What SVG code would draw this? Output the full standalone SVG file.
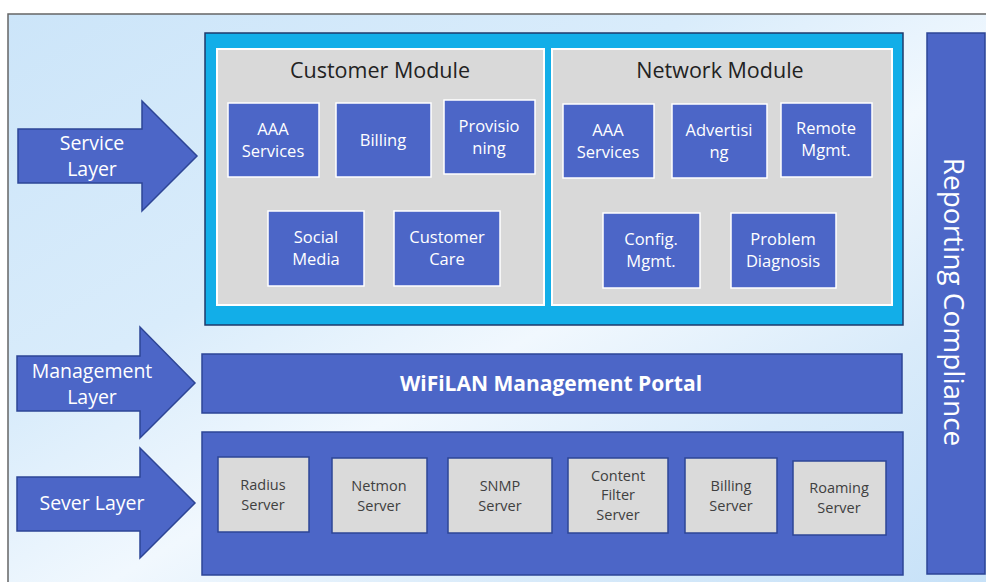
<svg xmlns="http://www.w3.org/2000/svg" width="986" height="582" viewBox="0 0 986 582">
<defs>
<linearGradient id="bg" x1="0" y1="0" x2="1" y2="1">
<stop offset="0" stop-color="#cce5f9"/>
<stop offset="0.35" stop-color="#d9ecfb"/>
<stop offset="0.55" stop-color="#f1f8fe"/>
<stop offset="0.75" stop-color="#d9ebfa"/>
<stop offset="1" stop-color="#c6e1f8"/>
</linearGradient>
<style>
.blue{fill:#4c66c7;stroke:#2d4596;stroke-width:1.5}
.sub{fill:#4c66c7;stroke:#ffffff;stroke-width:1.5}
.gray{fill:#d9d9d9;stroke:#ffffff;stroke-width:2}
.srv{fill:#dadada;stroke:#2d4596;stroke-width:1.5}
.arrow{fill:#4c66c7;stroke:#2d4596;stroke-width:1.5}
text{font-family:"Open Sans","Noto Sans","DejaVu Sans",sans-serif}
.wt{fill:#ffffff;font-size:16.5px;text-anchor:middle}
.at{fill:#ffffff;font-size:19.5px;text-anchor:middle}
.tt{fill:#222222;font-size:21.5px;text-anchor:middle}
.st{fill:#404040;font-size:14.5px;text-anchor:middle}
</style>
</defs>
<rect x="0" y="0" width="986" height="582" fill="#ffffff"/>
<rect x="8" y="14" width="980" height="570" fill="url(#bg)" stroke="#666666" stroke-width="1.5"/>

<g id="service-layer">
<polygon class="arrow" points="18,129 142,129 142,101 197,156 142,211 142,183 18,183"/>
<text class="at" x="92" y="150">Service</text>
<text class="at" x="92" y="176">Layer</text>
</g>
<g id="management-layer">
<polygon class="arrow" points="17,356 140,356 140,327 195,383 140,438 140,411 17,411"/>
<text class="at" x="92" y="378">Management</text>
<text class="at" x="92" y="404">Layer</text>
</g>
<g id="server-layer">
<polygon class="arrow" points="17,477 140,477 140,448 195,503 140,558 140,531 17,531"/>
<text class="at" x="92" y="510">Sever Layer</text>
</g>

<g id="service-container">
<rect x="205" y="33" width="698" height="292" fill="#12aee8" stroke="#1f3a6b" stroke-width="1.5"/>
</g>
<g id="customer-module">
<rect class="gray" x="217" y="49" width="327" height="256"/>
<text class="tt" x="380" y="78">Customer Module</text>
</g>
<g id="c-aaa"><rect class="sub" x="228" y="103" width="91" height="74"/><text class="wt" x="273" y="135">AAA</text><text class="wt" x="273" y="157">Services</text></g>
<g id="c-billing"><rect class="sub" x="336" y="103" width="95" height="74"/><text class="wt" x="383" y="146">Billing</text></g>
<g id="c-provisioning"><rect class="sub" x="444" y="100" width="91" height="74"/><text class="wt" x="489" y="132">Provisio</text><text class="wt" x="489" y="154">ning</text></g>
<g id="c-social"><rect class="sub" x="268" y="211" width="96" height="75"/><text class="wt" x="316" y="243">Social</text><text class="wt" x="316" y="265">Media</text></g>
<g id="c-care"><rect class="sub" x="394" y="211" width="106" height="75"/><text class="wt" x="447" y="243">Customer</text><text class="wt" x="447" y="265">Care</text></g>

<g id="network-module">
<rect class="gray" x="552" y="49" width="340" height="256"/>
<text class="tt" x="720" y="78">Network Module</text>
</g>
<g id="n-aaa"><rect class="sub" x="563" y="104" width="91" height="74"/><text class="wt" x="608" y="136">AAA</text><text class="wt" x="608" y="158">Services</text></g>
<g id="n-advertising"><rect class="sub" x="672" y="104" width="95" height="74"/><text class="wt" x="719" y="136">Advertisi</text><text class="wt" x="719" y="158">ng</text></g>
<g id="n-remote"><rect class="sub" x="781" y="103" width="91" height="74"/><text class="wt" x="826" y="134">Remote</text><text class="wt" x="826" y="156">Mgmt.</text></g>
<g id="n-config"><rect class="sub" x="603" y="213" width="97" height="75"/><text class="wt" x="651" y="245">Config.</text><text class="wt" x="651" y="267">Mgmt.</text></g>
<g id="n-problem"><rect class="sub" x="731" y="213" width="105" height="75"/><text class="wt" x="783" y="245">Problem</text><text class="wt" x="783" y="267">Diagnosis</text></g>

<g id="reporting-compliance">
<rect class="blue" x="927" y="33" width="58" height="541"/>
<text x="955" y="302" fill="#ffffff" font-size="28" text-anchor="middle" dominant-baseline="central" transform="rotate(90 955 302)">Reporting Compliance</text>
</g>

<g id="management-portal">
<rect class="blue" x="202" y="354" width="700" height="59"/>
<text x="551" y="391" fill="#ffffff" font-size="21" font-weight="bold" text-anchor="middle">WiFiLAN Management Portal</text>
</g>

<g id="server-container">
<rect class="blue" x="202" y="432" width="701" height="143"/>
</g>
<g id="s-radius"><rect class="srv" x="218" y="457" width="91" height="75"/><text class="st" x="263" y="490">Radius</text><text class="st" x="263" y="510">Server</text></g>
<g id="s-netmon"><rect class="srv" x="332" y="458" width="95" height="75"/><text class="st" x="379" y="491">Netmon</text><text class="st" x="379" y="511">Server</text></g>
<g id="s-snmp"><rect class="srv" x="448" y="458" width="104" height="75"/><text class="st" x="500" y="491">SNMP</text><text class="st" x="500" y="511">Server</text></g>
<g id="s-content"><rect class="srv" x="568" y="458" width="100" height="75"/><text class="st" x="618" y="481">Content</text><text class="st" x="618" y="500">Filter</text><text class="st" x="618" y="520">Server</text></g>
<g id="s-billing"><rect class="srv" x="685" y="458" width="92" height="75"/><text class="st" x="731" y="491">Billing</text><text class="st" x="731" y="511">Server</text></g>
<g id="s-roaming"><rect class="srv" x="793" y="461" width="93" height="74"/><text class="st" x="839" y="493">Roaming</text><text class="st" x="839" y="513">Server</text></g>

<g id="connectors"></g>
</svg>
